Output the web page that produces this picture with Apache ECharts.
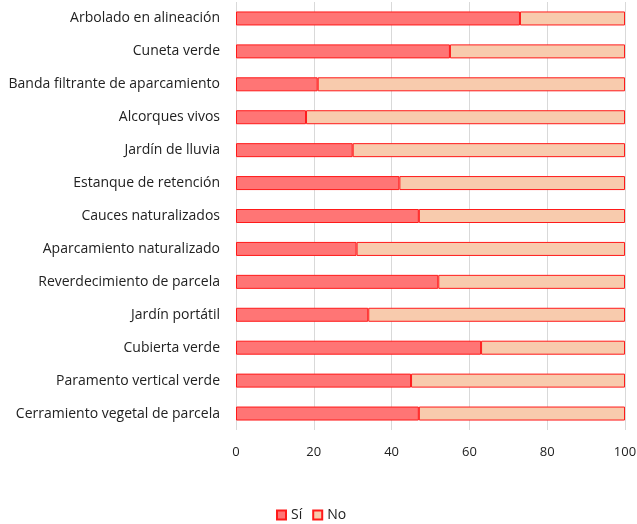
<!DOCTYPE html>
<html>
<head>
<meta charset="utf-8">
<script src="https://cdn.jsdelivr.net/npm/echarts@6/dist/echarts.min.js"></script>
<style>
  html, body { margin: 0; padding: 0; background: #fff; }
  #chart { width: 637px; height: 524px; }
</style>
</head>
<body>
<div id="chart"></div>
<script>
const categories = [
  "Arbolado en alineación",
  "Cuneta verde",
  "Banda filtrante de aparcamiento",
  "Alcorques vivos",
  "Jardín de lluvia",
  "Estanque de retención",
  "Cauces naturalizados",
  "Aparcamiento naturalizado",
  "Reverdecimiento de parcela",
  "Jardín portátil",
  "Cubierta verde",
  "Paramento vertical verde",
  "Cerramiento vegetal de parcela"
];
const siValues = [73, 55, 21, 18, 30, 42, 47, 31, 52, 34, 63, 45, 47];
const noValues = [27, 45, 79, 82, 70, 58, 53, 69, 48, 66, 37, 55, 53];
const xTicks = [0, 20, 40, 60, 80, 100];

const chart = echarts.init(document.getElementById("chart"));

const font = "'Open Sans', 'Liberation Sans', sans-serif";

chart.setOption({
  animation: false,
  textStyle: { fontFamily: font },
  grid: {
    left: 236,
    right: 12,
    top: 2,
    bottom: 94,
    containLabel: false,
    outerBoundsMode: "none"
  },
  legend: {
    top: 503,
    left: 271,
    icon: "rect",
    itemWidth: 9,
    itemHeight: 9,
    itemGap: 10,
    textStyle: { fontSize: 14, color: "#222", fontFamily: font },
    data: ["Sí", "No"]
  },
  xAxis: {
    type: "value",
    min: xTicks[0],
    max: xTicks[xTicks.length - 1],
    interval: 20,
    axisLine: { show: false },
    axisTick: { show: false },
    axisLabel: { color: "#222", fontSize: 13, margin: 16 },
    splitLine: { lineStyle: { color: "#d9d9d9", width: 1 } }
  },
  yAxis: {
    type: "category",
    inverse: true,
    data: categories,
    axisLine: { show: false },
    axisTick: { show: false },
    axisLabel: { color: "#222", fontSize: 14, margin: 16 }
  },
  series: [
    {
      name: "Sí",
      type: "bar",
      stack: "total",
      barWidth: 14,
      data: siValues,
      itemStyle: { color: "#ff7575", borderColor: "#ff1a1a", borderWidth: 1 }
    },
    {
      name: "No",
      type: "bar",
      stack: "total",
      barWidth: 14,
      data: noValues,
      itemStyle: { color: "#f8cbad", borderColor: "#ff1a1a", borderWidth: 1 }
    }
  ]
});

window.addEventListener("resize", () => chart.resize());
</script>
</body>
</html>
